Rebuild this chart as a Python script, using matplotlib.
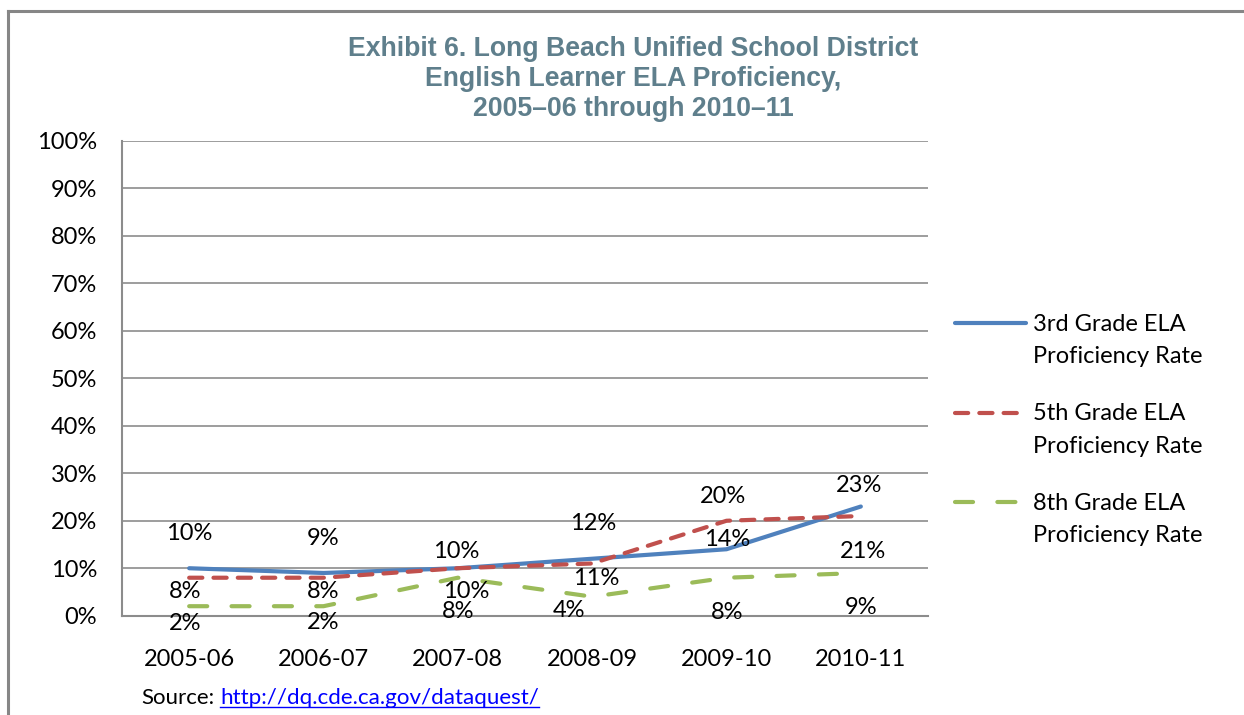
import matplotlib
matplotlib.use('Agg')
import matplotlib.pyplot as plt
from matplotlib.ticker import FuncFormatter
from matplotlib.legend_handler import HandlerLine2D

plt.rcParams['font.family'] = ['Lato', 'DejaVu Sans']
plt.rcParams['lines.scale_dashes'] = False

# data
years = ['2005-06', '2006-07', '2007-08', '2008-09', '2009-10', '2010-11']
grade3 = [10, 9, 10, 12, 14, 23]
grade5 = [8, 8, 10, 11, 20, 21]
grade8 = [2, 2, 8, 4, 8, 9]
series_names = ['3rd Grade ELA\nProficiency Rate',
                '5th Grade ELA\nProficiency Rate',
                '8th Grade ELA\nProficiency Rate']

# label offsets (pixels) as placed in the original
off3 = [(0, 35), (0, 34), (-2, 17), (1, 35), (1, 10), (-2, 21)]
off5 = [(-4, -14), (0, -14), (8, -23), (4, -15), (-3, 24), (2, -35)]
off8 = [(-4, -17), (0, -16), (0, -34), (-23, -14), (1, -35), (0, -35)]

blue = '#4F81BD'
red = '#C0504D'
green = '#9BBB59'
grid_c = '#8C8C8C'
title_c = '#5F7F8C'


class TopLineHandler(HandlerLine2D):
    # put the legend line next to the first text line, like Excel does
    def create_artists(self, legend, orig_handle, xdescent, ydescent, width, height, fontsize, trans):
        return super().create_artists(legend, orig_handle, xdescent, ydescent - 25,
                                      width, height, fontsize, trans)


W, H = 1244, 715
fig = plt.figure(figsize=(W / 100, H / 100), dpi=100)

# outer chart frame (only top and left edges visible)
fig.add_artist(plt.Line2D([8 / W, 1], [1 - 11 / H, 1 - 11 / H], color='#868686', lw=2.2))
fig.add_artist(plt.Line2D([8 / W, 8 / W], [0, 1 - 11 / H], color='#868686', lw=2.2))

ax = fig.add_axes([122 / W, 1 - 615.7 / H, (928 - 122) / W, (615.7 - 141) / H])

x = range(len(years))
l3, = ax.plot(x, grade3, color=blue, lw=3, solid_capstyle='round', zorder=3)
l5, = ax.plot(x, grade5, color=red, lw=3, dash_capstyle='round', zorder=3)
l5.set_dashes((9.5, 8))
l8, = ax.plot(x, grade8, color=green, lw=3, dash_capstyle='round', zorder=3)
l8.set_dashes((13, 17.5))

lab_fs = 17
for vals, offs in ((grade3, off3), (grade5, off5), (grade8, off8)):
    for i, v in enumerate(vals):
        ax.annotate('{}%'.format(v), (i, v), xytext=offs[i], textcoords='offset pixels',
                    ha='center', va='center', fontsize=lab_fs, color='black', zorder=4)

ax.set_xlim(-0.5, len(years) - 0.5)
ax.set_ylim(0, 100)
ax.set_yticks(range(0, 101, 10))
ax.yaxis.set_major_formatter(FuncFormatter(lambda v, p: '{:d}%'.format(int(v))))
ax.set_xticks(list(x))
ax.set_xticklabels(years)
ax.tick_params(axis='both', length=0, labelsize=lab_fs)
ax.tick_params(axis='y', pad=18)
ax.tick_params(axis='x', pad=24)
ax.grid(axis='y', color=grid_c, lw=1.2)
ax.set_axisbelow(True)
for s in ('top', 'right'):
    ax.spines[s].set_visible(False)
for s in ('left', 'bottom'):
    ax.spines[s].set_color(grid_c)
    ax.spines[s].set_linewidth(1.5)

fig.text(633 / W, 1 - 79 / H,
         'Exhibit 6. Long Beach Unified School District\nEnglish Learner ELA Proficiency,\n2005\u201306 through 2010\u201311',
         ha='center', va='center', fontsize=19.2, fontweight='bold', color=title_c,
         family=['Liberation Sans', 'DejaVu Sans'], linespacing=1.2)

leg = fig.legend([l3, l5, l8], series_names, loc='center left',
                 bbox_to_anchor=(934 / W, 1 - 430 / H), frameon=False,
                 fontsize=lab_fs, handlelength=3.0, handletextpad=0.3, labelspacing=1.53,
                 handler_map={l3: TopLineHandler(), l5: TopLineHandler(), l8: TopLineHandler()})
for t in leg.get_texts():
    t.set_linespacing(1.67)

fig.text(214 / W, 1 - 698 / H, 'Source:', ha='right', va='center', fontsize=16)
link = fig.text(220 / W, 1 - 698 / H, 'http://dq.cde.ca.gov/dataquest/', ha='left', va='center',
                fontsize=16.1, color='#0000FF', url='http://dq.cde.ca.gov/dataquest/')
fig.canvas.draw()
bb = link.get_window_extent()
fig.add_artist(plt.Line2D([bb.x0 / W, bb.x1 / W], [(bb.y0 + 1) / H, (bb.y0 + 1) / H],
                          color='#0000FF', lw=1))

fig.savefig('out.png', dpi=100)
